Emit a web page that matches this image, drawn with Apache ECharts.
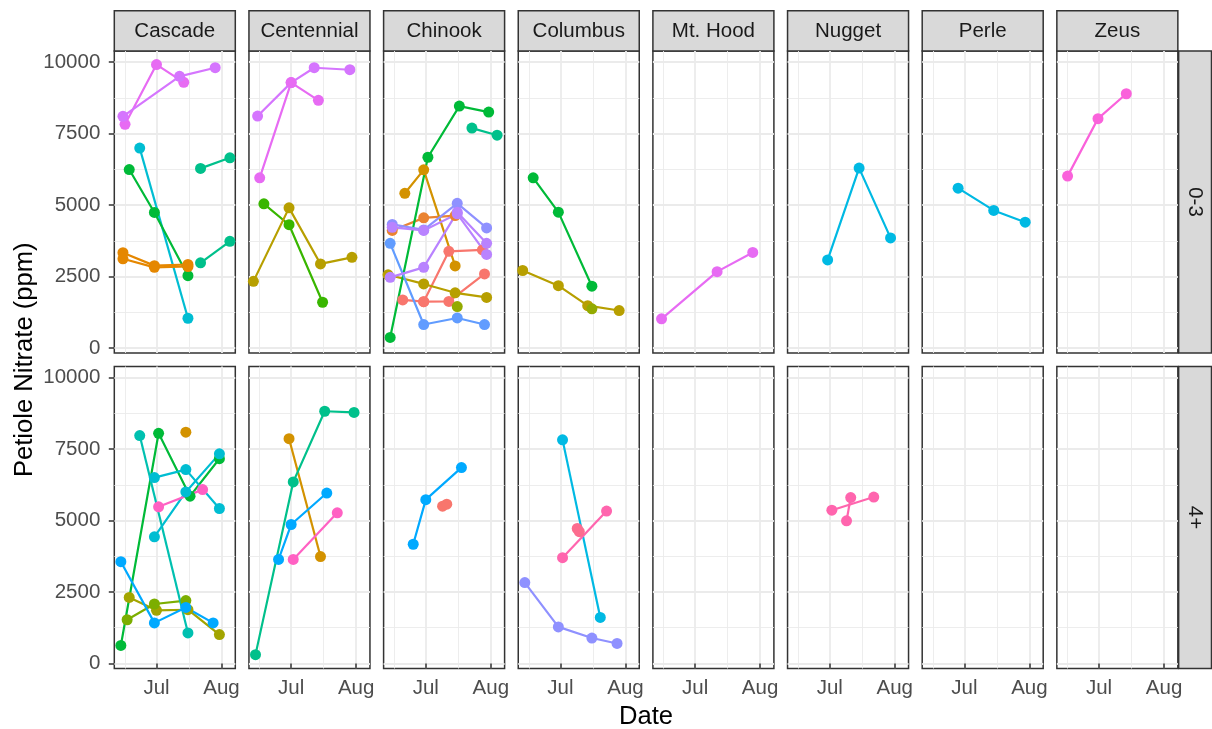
<!DOCTYPE html>
<html>
<head>
<meta charset="utf-8">
<script src="https://cdn.jsdelivr.net/npm/echarts@6/dist/echarts.min.js"></script>
<style>
  html, body { margin: 0; padding: 0; background: #fff; }
  #chart { width: 1212px; height: 729px; }
</style>
</head>
<body>
<div id="chart"></div>
<script>
var YEAR = '2019-';
var varieties = ['Cascade', 'Centennial', 'Chinook', 'Columbus', 'Mt. Hood', 'Nugget', 'Perle', 'Zeus'];
var depths = ['0-3', '4+'];
var monthTicks = ['07-01', '08-01'];
var monthLabels = ['Jul', 'Aug'];
var minorDates = ['06-16', '07-16 12:00'];
var valueTicks = [0, 2500, 5000, 7500, 10000];
var minorValues = [1250, 3750, 6250, 8750];
var dateRange = ['06-10 21:00', '08-07 14:00'];
var valueRange = [-175, 10385];

// each panel: [group, [[date, ppm], ...]]
var cascade_0_3 = [
  ['f20', [['06-16', 7820], ['07-01', 9910], ['07-14', 9290]]],
  ['f19', [['06-15', 8100], ['07-12', 9500], ['07-29', 9800]]],
  ['f13', [['06-23', 6990], ['07-16', 1040]]],
  ['f10', [['06-18', 6240], ['06-30', 4740], ['07-16', 2530]]],
  ['f11', [['07-22', 6280], ['08-05', 6650]]],
  ['f11', [['07-22', 2980], ['08-05', 3730]]],
  ['f03', [['06-15', 3330], ['06-30', 2880], ['07-16', 2920]]],
  ['f03', [['06-15', 3120], ['06-30', 2820], ['07-16', 2850]]]
];
var centennial_0_3 = [
  ['f19', [['06-15', 8110], ['07-01', 9280], ['07-12', 9800], ['07-29', 9730]]],
  ['f20', [['06-16', 5950], ['07-01', 9280], ['07-14', 8660]]],
  ['f09', [['06-18', 5040], ['06-30', 4310], ['07-16', 1600]]],
  ['f05', [['06-13', 2330], ['06-30', 4900], ['07-15', 2940], ['07-30', 3170]]]
];
var chinook_0_3 = [
  ['f01', [['06-20', 1680], ['06-30', 1620], ['07-12', 3380], ['07-28', 3430]]],
  ['f01', [['06-30', 1620], ['07-12', 1630], ['07-29', 2590]]],
  ['f02', [['06-15', 4110], ['06-30', 4550], ['07-15', 4630]]],
  ['f04', [['06-21', 5410], ['06-30', 6230], ['07-15', 2870]]],
  ['f05', [['06-13', 2560], ['06-30', 2240], ['07-15', 1930], ['07-30', 1770]]],
  ['f08', [['07-16', 1450]]],
  ['f10', [['06-14', 370], ['07-02', 6670], ['07-17', 8460], ['07-31', 8250]]],
  ['f11', [['07-23', 7690], ['08-04', 7440]]],
  ['f16', [['06-14', 3660], ['06-30', 820], ['07-16', 1050], ['07-29', 820]]],
  ['f17', [['06-15', 4320], ['06-30', 4130], ['07-16', 5060], ['07-30', 4200]]],
  ['f18', [['06-14', 2470], ['06-30', 2820], ['07-16', 4750], ['07-30', 3660]]],
  ['f18', [['06-15', 4220], ['06-30', 4110], ['07-16', 4690], ['07-30', 3270]]]
];
var columbus_0_3 = [
  ['f05', [['06-13', 2710], ['06-30', 2180], ['07-14', 1480], ['07-29', 1310]]],
  ['f08', [['07-16', 1370]]],
  ['f10', [['06-18', 5950], ['06-30', 4750], ['07-16', 2160]]]
];
var mthood_0_3 = [
  ['f20', [['06-15', 1020], ['07-11 12:00', 2670], ['07-28 12:00', 3340]]]
];
var nugget_0_3 = [
  ['f14', [['06-30', 3080], ['07-15', 6290], ['07-30', 3850]]]
];
var perle_0_3 = [
  ['f14', [['06-28', 5590], ['07-15', 4810], ['07-30', 4400]]]
];
var zeus_0_3 = [
  ['f21', [['06-16', 6010], ['06-30 12:00', 8020], ['07-14', 8890]]]
];

var cascade_4 = [
  ['f04', [['07-15', 8090]]],
  ['f06', [['06-18', 2310], ['07-01', 1860], ['07-16', 1880], ['07-31', 1010]]],
  ['f07', [['06-17', 1530], ['06-30', 2080], ['07-15', 2200]]],
  ['f10', [['06-14', 630], ['07-02', 8050], ['07-17', 5850], ['07-31', 7160]]],
  ['f12', [['06-23', 7970], ['07-16', 1070]]],
  ['f13', [['06-30', 6500], ['07-15', 6780], ['07-31', 5420]]],
  ['f13', [['06-30', 4430], ['07-15', 6000], ['07-31', 7330]]],
  ['f15', [['06-14', 3560], ['06-30', 1420], ['07-15', 1960], ['07-28', 1420]]],
  ['f22', [['07-02', 5480], ['07-23', 6080]]]
];
var centennial_4 = [
  ['f04', [['06-30', 7860], ['07-15', 3740]]],
  ['f11', [['06-14', 310], ['07-02', 6350], ['07-17', 8820], ['07-31', 8780]]],
  ['f15', [['06-25', 3640], ['07-01', 4860], ['07-18', 5960]]],
  ['f22', [['07-02', 3640], ['07-23', 5270]]]
];
var chinook_4 = [
  ['f01', [['07-09', 5500], ['07-11', 5570]]],
  ['f15', [['06-25', 4170], ['07-01', 5730], ['07-18', 6850]]]
];
var columbus_4 = [
  ['f14', [['07-02', 7820], ['07-20', 1610]]],
  ['f17', [['06-14', 2830], ['06-30', 1280], ['07-16', 890], ['07-28', 700]]],
  ['f23', [['07-02', 3700], ['07-23', 5330]]],
  ['f24', [['07-09', 4720], ['07-10', 4610]]]
];
var nugget_4 = [
  ['f23', [['07-02', 5360], ['07-22', 5820]]],
  ['f23', [['07-09', 4990], ['07-11', 5800]]]
];

// group colours (ggplot hue palette)
var groupColors = {
  f01: '#F8766D', f02: '#EA8331', f03: '#E58700', f04: '#D39200', f05: '#B79F00',
  f06: '#A3A500', f07: '#7CAE00', f08: '#93AA00', f09: '#39B600', f10: '#00BA38',
  f11: '#00C08B', f12: '#00C0B0', f13: '#00BDD2', f14: '#00B9E3', f15: '#00A9FF',
  f16: '#619CFF', f17: '#8F91FF', f18: '#B983FF', f19: '#D575FE', f20: '#E76BF3',
  f21: '#FA62DB', f22: '#FF61C3', f23: '#FF65AE', f24: '#FC6D8F'
};

var panels = [
  [cascade_0_3, centennial_0_3, chinook_0_3, columbus_0_3, mthood_0_3, nugget_0_3, perle_0_3, zeus_0_3],
  [cascade_4, centennial_4, chinook_4, columbus_4, [], nugget_4, [], []]
];

var FONT = 'Liberation Sans, Arial, Helvetica, sans-serif';
var PANEL_LEFT = 114.3, PANEL_STEP = 134.65, PANEL_W = 121, PANEL_H = 302;
var ROW_TOP = [51, 366.5];
var STRIP_TOP = 10.7;

// 'MM-DD[ HH:mm]' -> timestamp
function t(d) {
  return echarts.time.parse(YEAR + d).getTime();
}

var majorX = monthTicks.map(t);
var minorX = minorDates.map(t);

var option = {
  backgroundColor: '#fff',
  animation: false,
  grid: [], xAxis: [], yAxis: [], series: [], graphic: []
};

// 面板
for (var r = 0; r < depths.length; r++) {
  for (var c = 0; c < varieties.length; c++) {
    var k = option.grid.length;
    var left = PANEL_LEFT + c * PANEL_STEP;
    option.grid.push({
      left: left, top: ROW_TOP[r], width: PANEL_W, height: PANEL_H,
      show: true, borderColor: '#333333', borderWidth: 1.5, backgroundColor: '#fff'
    });
    option.xAxis.push({
      gridIndex: k, type: 'value', min: t(dateRange[0]), max: t(dateRange[1]),
      axisLine: { show: false },
      axisTick: { show: r === 1, customValues: majorX, length: 5.5, lineStyle: { color: '#333333', width: 1.5 } },
      axisLabel: {
        show: r === 1, customValues: majorX, margin: 9, fontSize: 20.5, fontFamily: FONT, color: '#4D4D4D',
        formatter: function (v) {
          var i = majorX.indexOf(v);
          return i >= 0 ? monthLabels[i] : '';
        }
      },
      splitLine: { show: true, lineStyle: { color: '#EBEBEB', width: 1.8 } }
    });
    option.xAxis.push({
      gridIndex: k, type: 'value', min: t(dateRange[0]), max: t(dateRange[1]),
      axisLine: { show: false },
      axisTick: { show: false, customValues: minorX },
      axisLabel: { show: false, customValues: minorX },
      splitLine: { show: true, lineStyle: { color: '#EBEBEB', width: 0.9 } }
    });
    option.yAxis.push({
      gridIndex: k, type: 'value', min: valueRange[0], max: valueRange[1],
      axisLine: { show: false },
      axisTick: { show: c === 0, customValues: valueTicks, length: 5.5, lineStyle: { color: '#333333', width: 1.5 } },
      axisLabel: {
        show: c === 0, customValues: valueTicks, margin: 14, fontSize: 20.5, fontFamily: FONT, color: '#4D4D4D',
        formatter: function (v) { return String(v); }
      },
      splitLine: { show: true, lineStyle: { color: '#EBEBEB', width: 1.8 } }
    });
    option.yAxis.push({
      gridIndex: k, type: 'value', min: valueRange[0], max: valueRange[1],
      axisLine: { show: false },
      axisTick: { show: false, customValues: minorValues },
      axisLabel: { show: false, customValues: minorValues },
      splitLine: { show: true, lineStyle: { color: '#EBEBEB', width: 0.9 } }
    });

    var lines = panels[r][c];
    for (var j = 0; j < lines.length; j++) {
      var col = groupColors[lines[j][0]];
      option.series.push({
        type: 'line', xAxisIndex: 2 * k, yAxisIndex: 2 * k,
        data: lines[j][1].map(function (p) { return [t(p[0]), p[1]]; }),
        symbol: 'circle', symbolSize: 11, showSymbol: true, clip: false, silent: true,
        lineStyle: { color: col, width: 2.2 },
        itemStyle: { color: col, borderWidth: 0 },
        z: 3
      });
    }

    // 顶部分面标签
    if (r === 0) {
      option.graphic.push({
        type: 'rect', silent: true,
        shape: { x: left, y: STRIP_TOP, width: PANEL_W, height: ROW_TOP[0] - STRIP_TOP },
        style: { fill: '#D9D9D9', stroke: '#333333', lineWidth: 1.5 }
      });
      option.graphic.push({
        type: 'text', silent: true, x: left + PANEL_W / 2, y: (STRIP_TOP + ROW_TOP[0]) / 2,
        style: { text: varieties[c], fontSize: 20.5, fontFamily: FONT, fill: '#1A1A1A', align: 'center', verticalAlign: 'middle' }
      });
    }
  }
  // 右侧分面标签
  var sx = PANEL_LEFT + 7 * PANEL_STEP + PANEL_W + 0.8;
  option.graphic.push({
    type: 'rect', silent: true,
    shape: { x: sx, y: ROW_TOP[r], width: 1211.5 - sx, height: PANEL_H },
    style: { fill: '#D9D9D9', stroke: '#333333', lineWidth: 1.5 }
  });
  option.graphic.push({
    type: 'text', silent: true, x: (sx + 1211.5) / 2, y: ROW_TOP[r] + PANEL_H / 2, rotation: -Math.PI / 2,
    style: { text: depths[r], fontSize: 20.5, fontFamily: FONT, fill: '#1A1A1A', align: 'center', verticalAlign: 'middle' }
  });
}

// 坐标轴标题
option.graphic.push({
  type: 'text', silent: true, x: PANEL_LEFT + (7 * PANEL_STEP + PANEL_W) / 2, y: 716.5,
  style: { text: 'Date', fontSize: 25.6, fontFamily: FONT, fill: '#000', align: 'center', verticalAlign: 'middle' }
});
option.graphic.push({
  type: 'text', silent: true, x: 24.5, y: (ROW_TOP[0] + ROW_TOP[1] + PANEL_H) / 2, rotation: Math.PI / 2,
  style: { text: 'Petiole Nitrate (ppm)', fontSize: 25.6, fontFamily: FONT, fill: '#000', align: 'center', verticalAlign: 'middle' }
});

var chart = echarts.init(document.getElementById('chart'), null, { renderer: 'canvas' });
chart.setOption(option);
window.addEventListener('resize', function () {
  chart.resize();
});
</script>
</body>
</html>
